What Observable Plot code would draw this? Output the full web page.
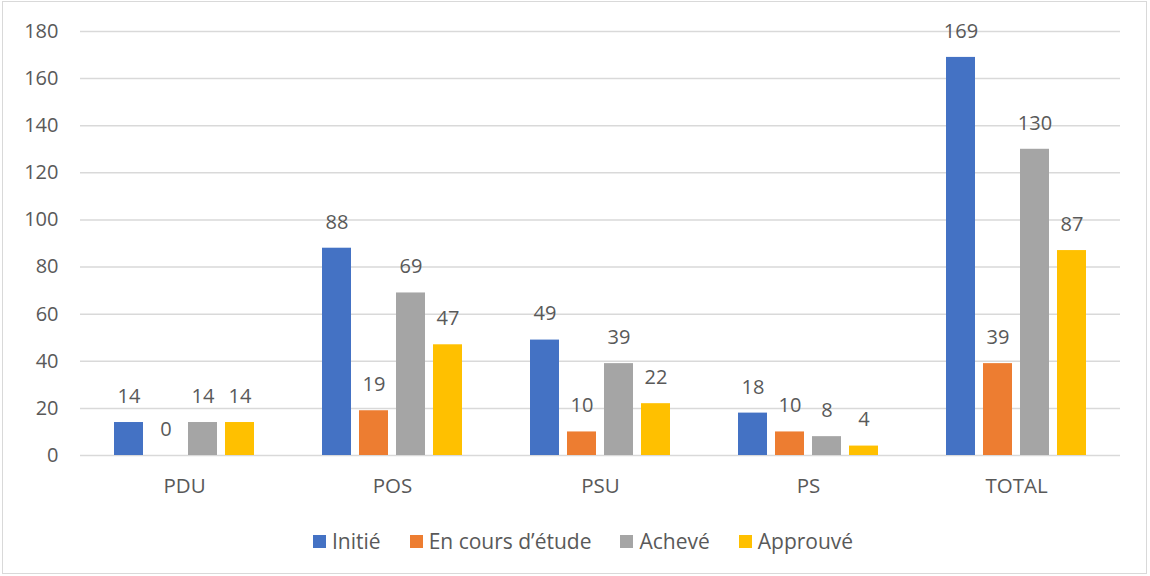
<!DOCTYPE html>
<html>
<head>
<meta charset="utf-8">
<script src="https://cdn.jsdelivr.net/npm/d3@7"></script>
<script src="https://cdn.jsdelivr.net/npm/@observablehq/plot@0.6"></script>
<style>
  html, body { margin: 0; padding: 0; background: #fff; }
  #frame { position: relative; width: 1150px; height: 576px; box-sizing: border-box; overflow: hidden; }
  #border { position: absolute; left: 2px; top: 1px; width: 1145px; height: 573px; box-sizing: border-box; border: 1.5px solid #d9d9d9; pointer-events: none; }
  #legend { position: absolute; left: 313px; top: 526px; height: 30px; display: flex; align-items: center; font-family: "Open Sans", Lato, sans-serif; font-size: 21px; color: #595959; white-space: nowrap; }
  .item { display: flex; align-items: center; margin-right: 29px; }
  .sw { width: 13px; height: 13px; margin-right: 6px; }
</style>
</head>
<body>
<div id="frame">
  <div id="chart"></div>
  <div id="legend"></div>
  <div id="border"></div>
</div>
<script>
const categories = ["PDU", "POS", "PSU", "PS", "TOTAL"];
const seriesNames = ["Initié", "En cours d’étude", "Achevé", "Approuvé"];
const initie = [14, 88, 49, 18, 169];
const enCours = [0, 19, 10, 10, 39];
const acheve = [14, 69, 39, 8, 130];
const approuve = [14, 47, 22, 4, 87];
const colors = ["#4472C4", "#ED7D31", "#A5A5A5", "#FFC000"];
const yTicks = [0, 20, 40, 60, 80, 100, 120, 140, 160, 180];

const seriesValues = [initie, enCours, acheve, approuve];
const data = [];
categories.forEach((c, i) => {
  seriesNames.forEach((s, j) => {
    data.push({category: c, series: s, value: seriesValues[j][i]});
  });
});

const textColor = "#595959";
const font = "'Open Sans', Lato, sans-serif";

const chart = Plot.plot({
  width: 1150,
  height: 515,
  marginLeft: 79,
  marginRight: 29,
  marginTop: 31,
  marginBottom: 60,
  style: {fontFamily: font, fontSize: "20px", color: textColor, background: "transparent"},
  fx: {domain: categories, padding: 0, label: null, axis: null},
  x: {domain: seriesNames, paddingInner: 0.21, paddingOuter: 0.86, axis: null},
  y: {domain: [0, 180], label: null},
  color: {domain: seriesNames, range: colors},
  marks: [
    Plot.gridY(yTicks, {stroke: "#d9d9d9", strokeOpacity: 1, strokeWidth: 1.5}),
    Plot.axisY(yTicks, {tickSize: 0, tickPadding: 22, label: null, fill: textColor, fontSize: 20}),
    Plot.axisFx({anchor: "bottom", tickSize: 0, tickPadding: 23, label: null, fill: textColor, fontSize: 20.5}),
    Plot.barY(data, {fx: "category", x: "series", y: "value", fill: "series"}),
    Plot.text(data, {fx: "category", x: "series", y: "value", text: d => String(d.value), dy: -26, fill: textColor, fontSize: 20, textAnchor: "middle"})
  ]
});
document.getElementById("chart").appendChild(chart);

const legend = document.getElementById("legend");
seriesNames.forEach((s, j) => {
  const it = document.createElement("div");
  it.className = "item";
  const sw = document.createElement("div");
  sw.className = "sw";
  sw.style.background = colors[j];
  const t = document.createElement("span");
  t.textContent = s;
  it.appendChild(sw);
  it.appendChild(t);
  legend.appendChild(it);
});
</script>
</body>
</html>
